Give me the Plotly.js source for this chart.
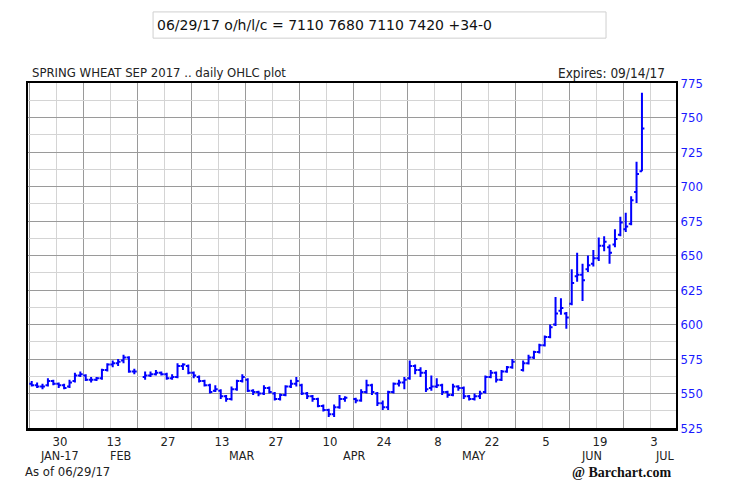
<!DOCTYPE html>
<html><head><meta charset="utf-8">
<script src="https://cdn.plot.ly/plotly-3.0.1.min.js"></script>
<style>html,body{margin:0;padding:0;background:#fff}#chart{width:731px;height:500px}</style>
</head><body><div id="chart"></div>
<script>
// ---- data ----
const dates = [
 '2017-01-23','2017-01-24','2017-01-25','2017-01-26','2017-01-27','2017-01-30','2017-01-31',
 '2017-02-01','2017-02-02','2017-02-03','2017-02-06','2017-02-07','2017-02-08','2017-02-09','2017-02-10',
 '2017-02-13','2017-02-14','2017-02-15','2017-02-16','2017-02-17','2017-02-21','2017-02-22','2017-02-23',
 '2017-02-24','2017-02-27','2017-02-28',
 '2017-03-01','2017-03-02','2017-03-03','2017-03-06','2017-03-07','2017-03-08','2017-03-09','2017-03-10',
 '2017-03-13','2017-03-14','2017-03-15','2017-03-16','2017-03-17','2017-03-20','2017-03-21','2017-03-22',
 '2017-03-23','2017-03-24','2017-03-27','2017-03-28','2017-03-29','2017-03-30','2017-03-31',
 '2017-04-03','2017-04-04','2017-04-05','2017-04-06','2017-04-07','2017-04-10','2017-04-11','2017-04-12',
 '2017-04-13','2017-04-17','2017-04-18','2017-04-19','2017-04-20','2017-04-21','2017-04-24','2017-04-25',
 '2017-04-26','2017-04-27','2017-04-28',
 '2017-05-01','2017-05-02','2017-05-03','2017-05-04','2017-05-05','2017-05-08','2017-05-09','2017-05-10',
 '2017-05-11','2017-05-12','2017-05-15','2017-05-16','2017-05-17','2017-05-18','2017-05-19','2017-05-22',
 '2017-05-23','2017-05-24','2017-05-25','2017-05-26','2017-05-30','2017-05-31',
 '2017-06-01','2017-06-02','2017-06-05','2017-06-06','2017-06-07','2017-06-08','2017-06-09','2017-06-12',
 '2017-06-13','2017-06-14','2017-06-15','2017-06-16','2017-06-19','2017-06-20','2017-06-21','2017-06-22',
 '2017-06-23','2017-06-26','2017-06-27','2017-06-28','2017-06-29'
];
const opens = [
 557,556,555,556,559,557,556,
 555,559,563,563,560,560,561,567,
 571,572,574,576,566,562,563,564,
 565,564,561,
 562,570,570,565,562,559,556,552,
 552,548,546,553,559,560,552,551,
 550,554,550,546,549,555,557,
 556,550,548,546,541,538,535,540,
 546,546,545,551,556,550,543,540,
 551,557,558,
 561,570,567,565,554,555,556,551,
 549,555,554,548,546,548,551,562,
 565,560,566,569,567,572,
 576,580,585,591,600,610,608,615,
 635,636,640,644,648,657,656,658,
 665,669,673,696,711
];
const highs = [
 559,558,557,561,560,558,557,
 560,565,566,564,562,562,568,572,
 574,575,578,577,568,566,566,567,
 566,565,564,
 572,572,571,566,563,560,557,556,
 553,549,555,560,564,561,553,552,
 556,555,551,550,556,560,562,
 557,551,549,547,542,539,542,549,
 548,547,553,560,557,551,545,552,
 558,560,562,
 574,571,569,567,563,561,557,552,
 557,556,555,549,550,552,563,567,
 566,567,570,575,574,578,
 581,586,592,600,620,619,609,640,
 652,644,650,654,663,664,658,669,
 678,681,693,718,768
];
const lows = [
 555,554,553,555,556,554,553,
 554,558,562,559,558,559,560,566,
 569,570,572,565,564,560,562,563,
 563,560,560,
 561,567,564,561,558,555,550,551,
 546,544,545,552,558,551,549,548,
 549,550,545,545,548,554,555,
 549,546,544,540,537,533,533,539,
 544,543,544,550,549,541,538,538,
 550,555,553,
 560,564,562,551,552,554,549,547,
 548,552,546,545,545,546,550,561,
 558,559,565,568,566,571,
 575,579,584,590,599,607,597,614,
 631,617,638,642,646,653,644,656,
 664,667,672,688,711
];
const closes = [
 556,555,555,559,557,556,554,
 558,563,564,560,560,561,567,571,
 572,573,576,566,566,563,564,565,
 564,561,562,
 570,571,565,563,559,556,551,553,
 548,546,553,559,562,552,551,550,
 554,551,546,549,555,557,559,
 550,548,546,541,538,535,540,546,
 547,545,551,556,551,543,540,551,
 557,558,560,
 570,567,565,553,555,556,551,549,
 555,554,548,546,548,550,562,565,
 560,566,569,573,572,576,
 580,585,591,598,608,612,605,630,
 636,632,643,648,657,660,652,662,
 674,671,690,709,742
];
// labelled week boundaries (grid lines) and their labels
const labelLines = ['2017-01-27 12:00','2017-02-10 12:00','2017-02-24 12:00','2017-03-10 12:00',
 '2017-03-24 12:00','2017-04-07 12:00','2017-04-21 12:00','2017-05-05 12:00','2017-05-19 12:00',
 '2017-06-02 12:00','2017-06-16 12:00','2017-06-30 12:00'];
const dayLabels = ['30','13','27','13','27','10','24','8','22','5','19','3'];
const weekLines = ['2017-01-20 12:00','2017-02-03 12:00','2017-02-17 12:00','2017-03-03 12:00',
 '2017-03-17 12:00','2017-03-31 12:00','2017-04-14 12:00','2017-04-28 12:00','2017-05-12 12:00',
 '2017-05-26 12:00','2017-06-09 12:00','2017-06-23 12:00'];
const monthLabels = ['JAN-17','FEB','MAR','APR','MAY','JUN','JUL'];
const monthPos = [0.048,0.1435,0.330,0.503,0.688,0.870,0.983];
const yTicks = [525,550,575,600,625,650,675,700,725,750,775];
const headline = '06/29/17 o/h/l/c = 7110 7680 7110 7420 +34-0';

const FONT = 'DejaVu Sans Condensed, DejaVu Sans, sans-serif';
const BLUE = '#0000ff';

const trace = {
  type: 'ohlc', x: dates, open: opens, high: highs, low: lows, close: closes,
  increasing: {line: {color: BLUE, width: 2}},
  decreasing: {line: {color: BLUE, width: 2}},
  tickwidth: 0.45, hoverinfo: 'skip', showlegend: false
};

const annotations = [
  {xref:'paper', yref:'paper', x:0.196, y:1.168, xanchor:'left', yanchor:'middle', showarrow:false,
   text: headline, font:{family:'DejaVu Sans, sans-serif', size:14, color:'#111'}},
  {xref:'paper', yref:'paper', x:0.003, y:1.029, xanchor:'left', yanchor:'middle', showarrow:false,
   text:'SPRING WHEAT SEP 2017 .. daily OHLC plot', font:{family:FONT, size:13, color:'#222'}},
  {xref:'paper', yref:'paper', x:0.986, y:1.029, xanchor:'right', yanchor:'middle', showarrow:false,
   text:'Expires: 09/14/17', font:{family:FONT, size:13.5, color:'#222'}},
  {xref:'paper', yref:'paper', x:-0.008, y:-0.127, xanchor:'left', yanchor:'middle', showarrow:false,
   text:'As of 06/29/17', font:{family:FONT, size:13, color:'#222'}},
  {xref:'paper', yref:'paper', x:0.996, y:-0.129, xanchor:'right', yanchor:'middle', showarrow:false,
   text:'<b>@ Barchart.com</b>', font:{family:'Liberation Serif, serif', size:14, color:'#111'}}
];
monthLabels.forEach((m, i) => annotations.push({
  xref:'paper', yref:'paper', x: monthPos[i], y:-0.081, xanchor:'center', yanchor:'middle',
  showarrow:false, text:m, font:{family:FONT, size:12.5, color:'#222'}
}));

const layout = {
  width: 731, height: 500,
  margin: {l: 28, r: 55, t: 83, b: 72},
  paper_bgcolor: '#fff', plot_bgcolor: '#fff',
  showlegend: false,
  xaxis: {
    type: 'date',
    range: ['2017-01-20 07:30', '2017-07-07 07:20'],
    rangebreaks: [{bounds: ['sat', 'mon']}],
    rangeslider: {visible: false},
    tickmode: 'array', tickvals: labelLines, ticktext: dayLabels,
    ticklabelshift: 4, ticklabelstandoff: 0,
    ticks: '', showgrid: true, gridcolor: '#d4d4d4', gridwidth: 1,
    minor: {tickmode: 'array', tickvals: weekLines, showgrid: true, gridcolor: '#9a9a9a', gridwidth: 1, ticks: ''},
    showline: true, linecolor: '#000', linewidth: 2.5, mirror: true,
    zeroline: false,
    tickfont: {family: FONT, size: 13, color: '#222'},
    fixedrange: true
  },
  yaxis: {
    side: 'right',
    range: [525, 775],
    tickmode: 'array', tickvals: yTicks,
    ticks: '', showgrid: true, gridcolor: '#9a9a9a', gridwidth: 1,
    minor: {dtick: 12.5, tick0: 525, showgrid: true, gridcolor: '#d4d4d4', gridwidth: 1, ticks: ''},
    showline: true, linecolor: '#000', linewidth: 2, mirror: true,
    zeroline: false,
    tickfont: {family: FONT, size: 13, color: '#1a1aff'},
    fixedrange: true
  },
  shapes: [
    {type:'rect', xref:'paper', yref:'paper', x0:0.193, x1:0.892, y0:1.130, y1:1.206,
     line:{color:'#cfcfcf', width:1}, fillcolor:'rgba(0,0,0,0)'}
  ],
  annotations: annotations
};

Plotly.newPlot('chart', [trace], layout, {displayModeBar: false, staticPlot: true});
</script>
</body></html>
